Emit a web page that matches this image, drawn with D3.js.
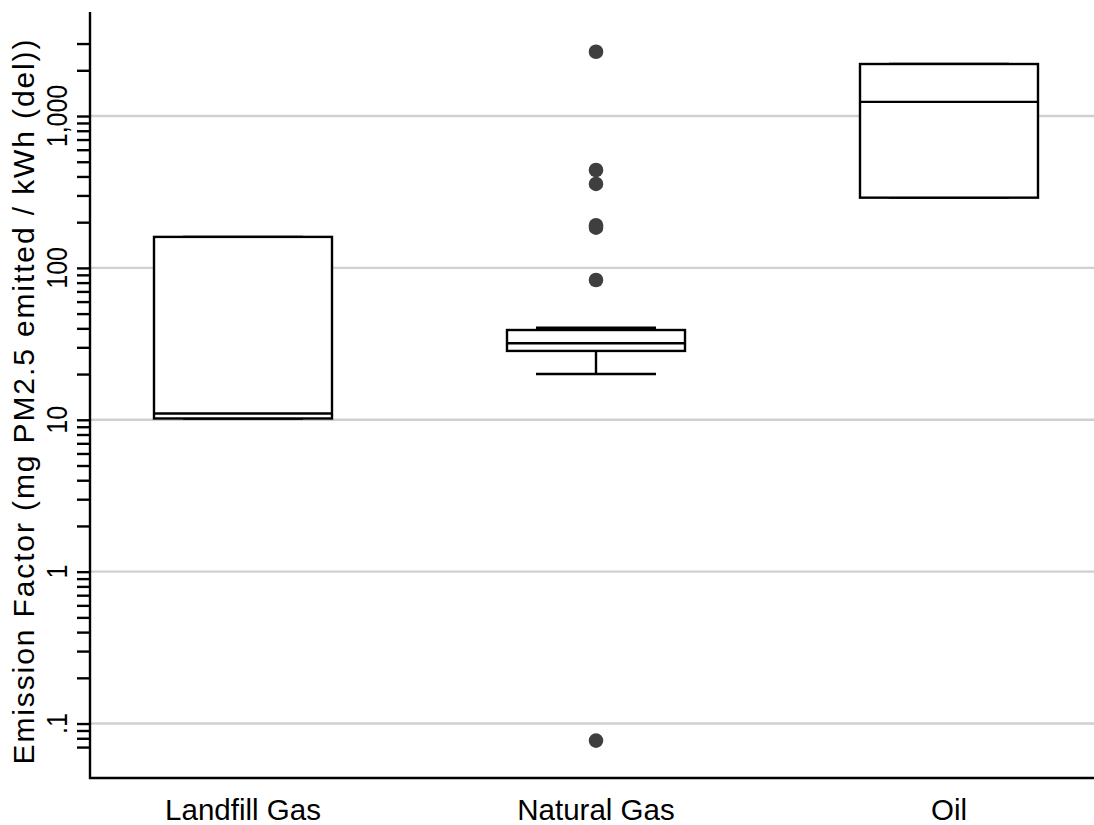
<!DOCTYPE html>
<html>
<head>
<meta charset="utf-8">
<script src="https://cdn.jsdelivr.net/npm/d3@7"></script>
<style>
  html, body { margin: 0; padding: 0; background: #fff; }
  svg { display: block; font-family: "Liberation Sans", Arial, sans-serif; }
</style>
</head>
<body>
<svg id="chart" width="1094" height="825"></svg>
<script>
// Fuel categories along the x axis
const categories = ["Landfill Gas", "Natural Gas", "Oil"];

// Box summaries per fuel (mg PM2.5 / kWh delivered)
const whiskerLow  = [10.2, 20.0, 290];
const q1          = [10.2, 28.4, 290];
const medians     = [11.0, 31.9, 1240];
const q3          = [160, 39.0, 2200];
const whiskerHigh = [160, 40.4, 2200];

// Outlying plants, by fuel
const outlierFuel   = ["Natural Gas", "Natural Gas", "Natural Gas", "Natural Gas", "Natural Gas", "Natural Gas", "Natural Gas"];
const outlierValues = [2650, 441, 357, 191, 184, 83.2, 0.0772];

// Axis ticks (log scale)
const majorTicks  = [0.1, 1, 10, 100, 1000];
const majorLabels = [".1", "1", "10", "100", "1,000"];
const minorTicks  = [0.07, 0.08, 0.09,
  0.2, 0.3, 0.4, 0.5, 0.6, 0.7, 0.8, 0.9,
  2, 3, 4, 5, 6, 7, 8, 9,
  20, 30, 40, 50, 60, 70, 80, 90,
  200, 300, 400, 500, 600, 700, 800, 900,
  2000, 3000];
const yDomain = [0.0438, 4840];

const yTitle = "Emission Factor (mg PM2.5 emitted / kWh (del))";

const svg = d3.select("#chart");
const W = 1094;
const plotLeft = 90, plotRight = W, plotTop = 12, plotBottom = 778;

const y = d3.scaleLog().domain(yDomain).range([plotBottom, plotTop]);
const x = d3.scalePoint().domain(categories).range([243, 949]);

const boxHalf = 89, capHalf = 60;
const lw = 2.4;

// Grid lines at the labelled decades
svg.append("g").selectAll("line").data(majorTicks).join("line")
  .attr("x1", plotLeft).attr("x2", plotRight)
  .attr("y1", d => y(d)).attr("y2", d => y(d))
  .attr("stroke", "#d0d0d0").attr("stroke-width", 2.4);

// Y axis with major and minor ticks
const yAxisG = svg.append("g").attr("transform", `translate(${plotLeft},0)`);
yAxisG.call(d3.axisLeft(y).tickValues(majorTicks.concat(minorTicks)).tickSize(13).tickFormat(""));
yAxisG.select(".domain").remove();
yAxisG.selectAll(".tick line").attr("stroke", "#000").attr("stroke-width", lw);

// Axis lines
svg.append("line").attr("x1", plotLeft).attr("x2", plotLeft)
  .attr("y1", plotTop).attr("y2", plotBottom + 1)
  .attr("stroke", "#000").attr("stroke-width", lw);
svg.append("line").attr("x1", plotLeft - 1).attr("x2", plotRight)
  .attr("y1", plotBottom).attr("y2", plotBottom)
  .attr("stroke", "#000").attr("stroke-width", lw);

// Rotated tick labels
svg.append("g").selectAll("text").data(majorTicks).join("text")
  .attr("transform", d => `translate(67,${y(d)}) rotate(-90) scale(0.86,1)`)
  .attr("text-anchor", "middle")
  .attr("font-size", 29)
  .attr("fill", "#000")
  .text((d, i) => majorLabels[i]);

// Y axis title
svg.append("text")
  .attr("transform", `translate(34,402) rotate(-90)`)
  .attr("text-anchor", "middle")
  .attr("font-size", 30)
  .attr("textLength", 725)
  .attr("lengthAdjust", "spacing")
  .attr("fill", "#000")
  .text(yTitle);

// Category labels
svg.append("g").selectAll("text").data(categories).join("text")
  .attr("x", d => x(d)).attr("y", 820)
  .attr("text-anchor", "middle")
  .attr("font-size", 29.5)
  .attr("fill", "#000")
  .text(d => d);

// Boxes
const boxes = categories.map((c, i) => ({
  c, lo: whiskerLow[i], q1: q1[i], med: medians[i], q3: q3[i], hi: whiskerHigh[i]
}));
const bg = svg.append("g").selectAll("g").data(boxes).join("g");
bg.append("line")
  .attr("x1", d => x(d.c)).attr("x2", d => x(d.c))
  .attr("y1", d => y(d.hi)).attr("y2", d => y(d.q3))
  .attr("stroke", "#000").attr("stroke-width", lw);
bg.append("line")
  .attr("x1", d => x(d.c)).attr("x2", d => x(d.c))
  .attr("y1", d => y(d.q1)).attr("y2", d => y(d.lo))
  .attr("stroke", "#000").attr("stroke-width", lw);
bg.append("line")
  .attr("x1", d => x(d.c) - capHalf).attr("x2", d => x(d.c) + capHalf)
  .attr("y1", d => y(d.hi)).attr("y2", d => y(d.hi))
  .attr("stroke", "#000").attr("stroke-width", lw);
bg.append("line")
  .attr("x1", d => x(d.c) - capHalf).attr("x2", d => x(d.c) + capHalf)
  .attr("y1", d => y(d.lo)).attr("y2", d => y(d.lo))
  .attr("stroke", "#000").attr("stroke-width", lw);
bg.append("rect")
  .attr("x", d => x(d.c) - boxHalf).attr("width", boxHalf * 2)
  .attr("y", d => y(d.q3)).attr("height", d => y(d.q1) - y(d.q3))
  .attr("fill", "#fff").attr("stroke", "#000").attr("stroke-width", lw);
bg.append("line")
  .attr("x1", d => x(d.c) - boxHalf).attr("x2", d => x(d.c) + boxHalf)
  .attr("y1", d => y(d.med)).attr("y2", d => y(d.med))
  .attr("stroke", "#000").attr("stroke-width", lw);

// Outliers
svg.append("g").selectAll("circle").data(outlierValues).join("circle")
  .attr("cx", (d, i) => x(outlierFuel[i]))
  .attr("cy", d => y(d))
  .attr("r", 7.3)
  .attr("fill", "#3f3f3f");
</script>
</body>
</html>
